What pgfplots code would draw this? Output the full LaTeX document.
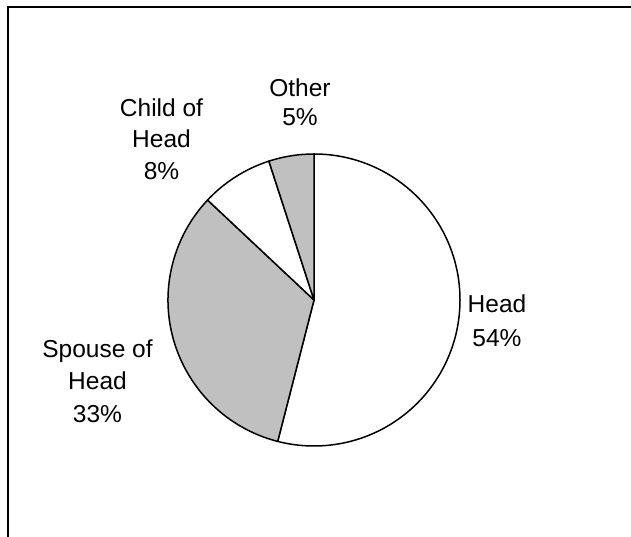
\documentclass[border=0pt]{standalone}
\usepackage{pgfplots}
\pgfplotsset{compat=1.18}
\usepackage{pgfplotstable}
\usepackage{fontspec}
\setmainfont{Liberation Sans}
\definecolor{piegray}{RGB}{192,192,192}

% share of each slice (percent), drawn clockwise from 12 o'clock
\pgfplotstableread{
label value
Head 54
Spouse 33
Child 8
Other 5
}\piedata

\begin{document}
\begin{tikzpicture}
\begin{axis}[
  scale only axis, width=631pt, height=537pt,
  xmin=0, xmax=631, ymin=0, ymax=537,
  hide axis, clip=false,
]
% outer frame (left and top lines only, as cropped)
\draw[line width=2pt, black] (axis cs:8,0) -- (axis cs:8,530) -- (axis cs:631,530);

% pie slices
\pgfmathsetmacro{\cx}{314}
\pgfmathsetmacro{\cy}{237}
\pgfmathsetmacro{\rr}{146}
\pgfplotstablegetelem{0}{value}\of{\piedata}\let\va\pgfplotsretval
\pgfplotstablegetelem{1}{value}\of{\piedata}\let\vb\pgfplotsretval
\pgfplotstablegetelem{2}{value}\of{\piedata}\let\vc\pgfplotsretval
\pgfplotstablegetelem{3}{value}\of{\piedata}\let\vd\pgfplotsretval
\pgfmathsetmacro{\aA}{90}
\pgfmathsetmacro{\aB}{\aA-3.6*\va}
\pgfmathsetmacro{\aC}{\aB-3.6*\vb}
\pgfmathsetmacro{\aD}{\aC-3.6*\vc}
\pgfmathsetmacro{\aE}{\aD-3.6*\vd}
\tikzset{wedge/.style={draw=black, line width=1.5pt, line join=round}}
\filldraw[wedge, fill=white]
  (axis cs:\cx,\cy) -- ++(\aA:\rr pt) arc[start angle=\aA, end angle=\aB, radius=\rr pt] -- cycle;
\filldraw[wedge, fill=piegray]
  (axis cs:\cx,\cy) -- ++(\aB:\rr pt) arc[start angle=\aB, end angle=\aC, radius=\rr pt] -- cycle;
\filldraw[wedge, fill=white]
  (axis cs:\cx,\cy) -- ++(\aC:\rr pt) arc[start angle=\aC, end angle=\aD, radius=\rr pt] -- cycle;
\filldraw[wedge, fill=piegray]
  (axis cs:\cx,\cy) -- ++(\aD:\rr pt) arc[start angle=\aD, end angle=\aE, radius=\rr pt] -- cycle;

% labels
\tikzset{lab/.style={anchor=base, inner sep=0pt, font=\fontsize{24.5}{33}\selectfont}}
\node[lab] at (axis cs:497,224) {Head};
\node[lab] at (axis cs:497,190) {54\%};
\node[lab] at (axis cs:97.5,179) {Spouse of};
\node[lab] at (axis cs:97.5,147) {Head};
\node[lab] at (axis cs:97.5,114) {33\%};
\node[lab] at (axis cs:161.5,420) {Child of};
\node[lab] at (axis cs:161.5,389) {Head};
\node[lab] at (axis cs:161.5,357) {8\%};
\node[lab] at (axis cs:300,440) {Other};
\node[lab] at (axis cs:300,411) {5\%};
\end{axis}
\pgfresetboundingbox
\path[use as bounding box] (0,0) rectangle (631pt,537pt);
\end{tikzpicture}
\end{document}
